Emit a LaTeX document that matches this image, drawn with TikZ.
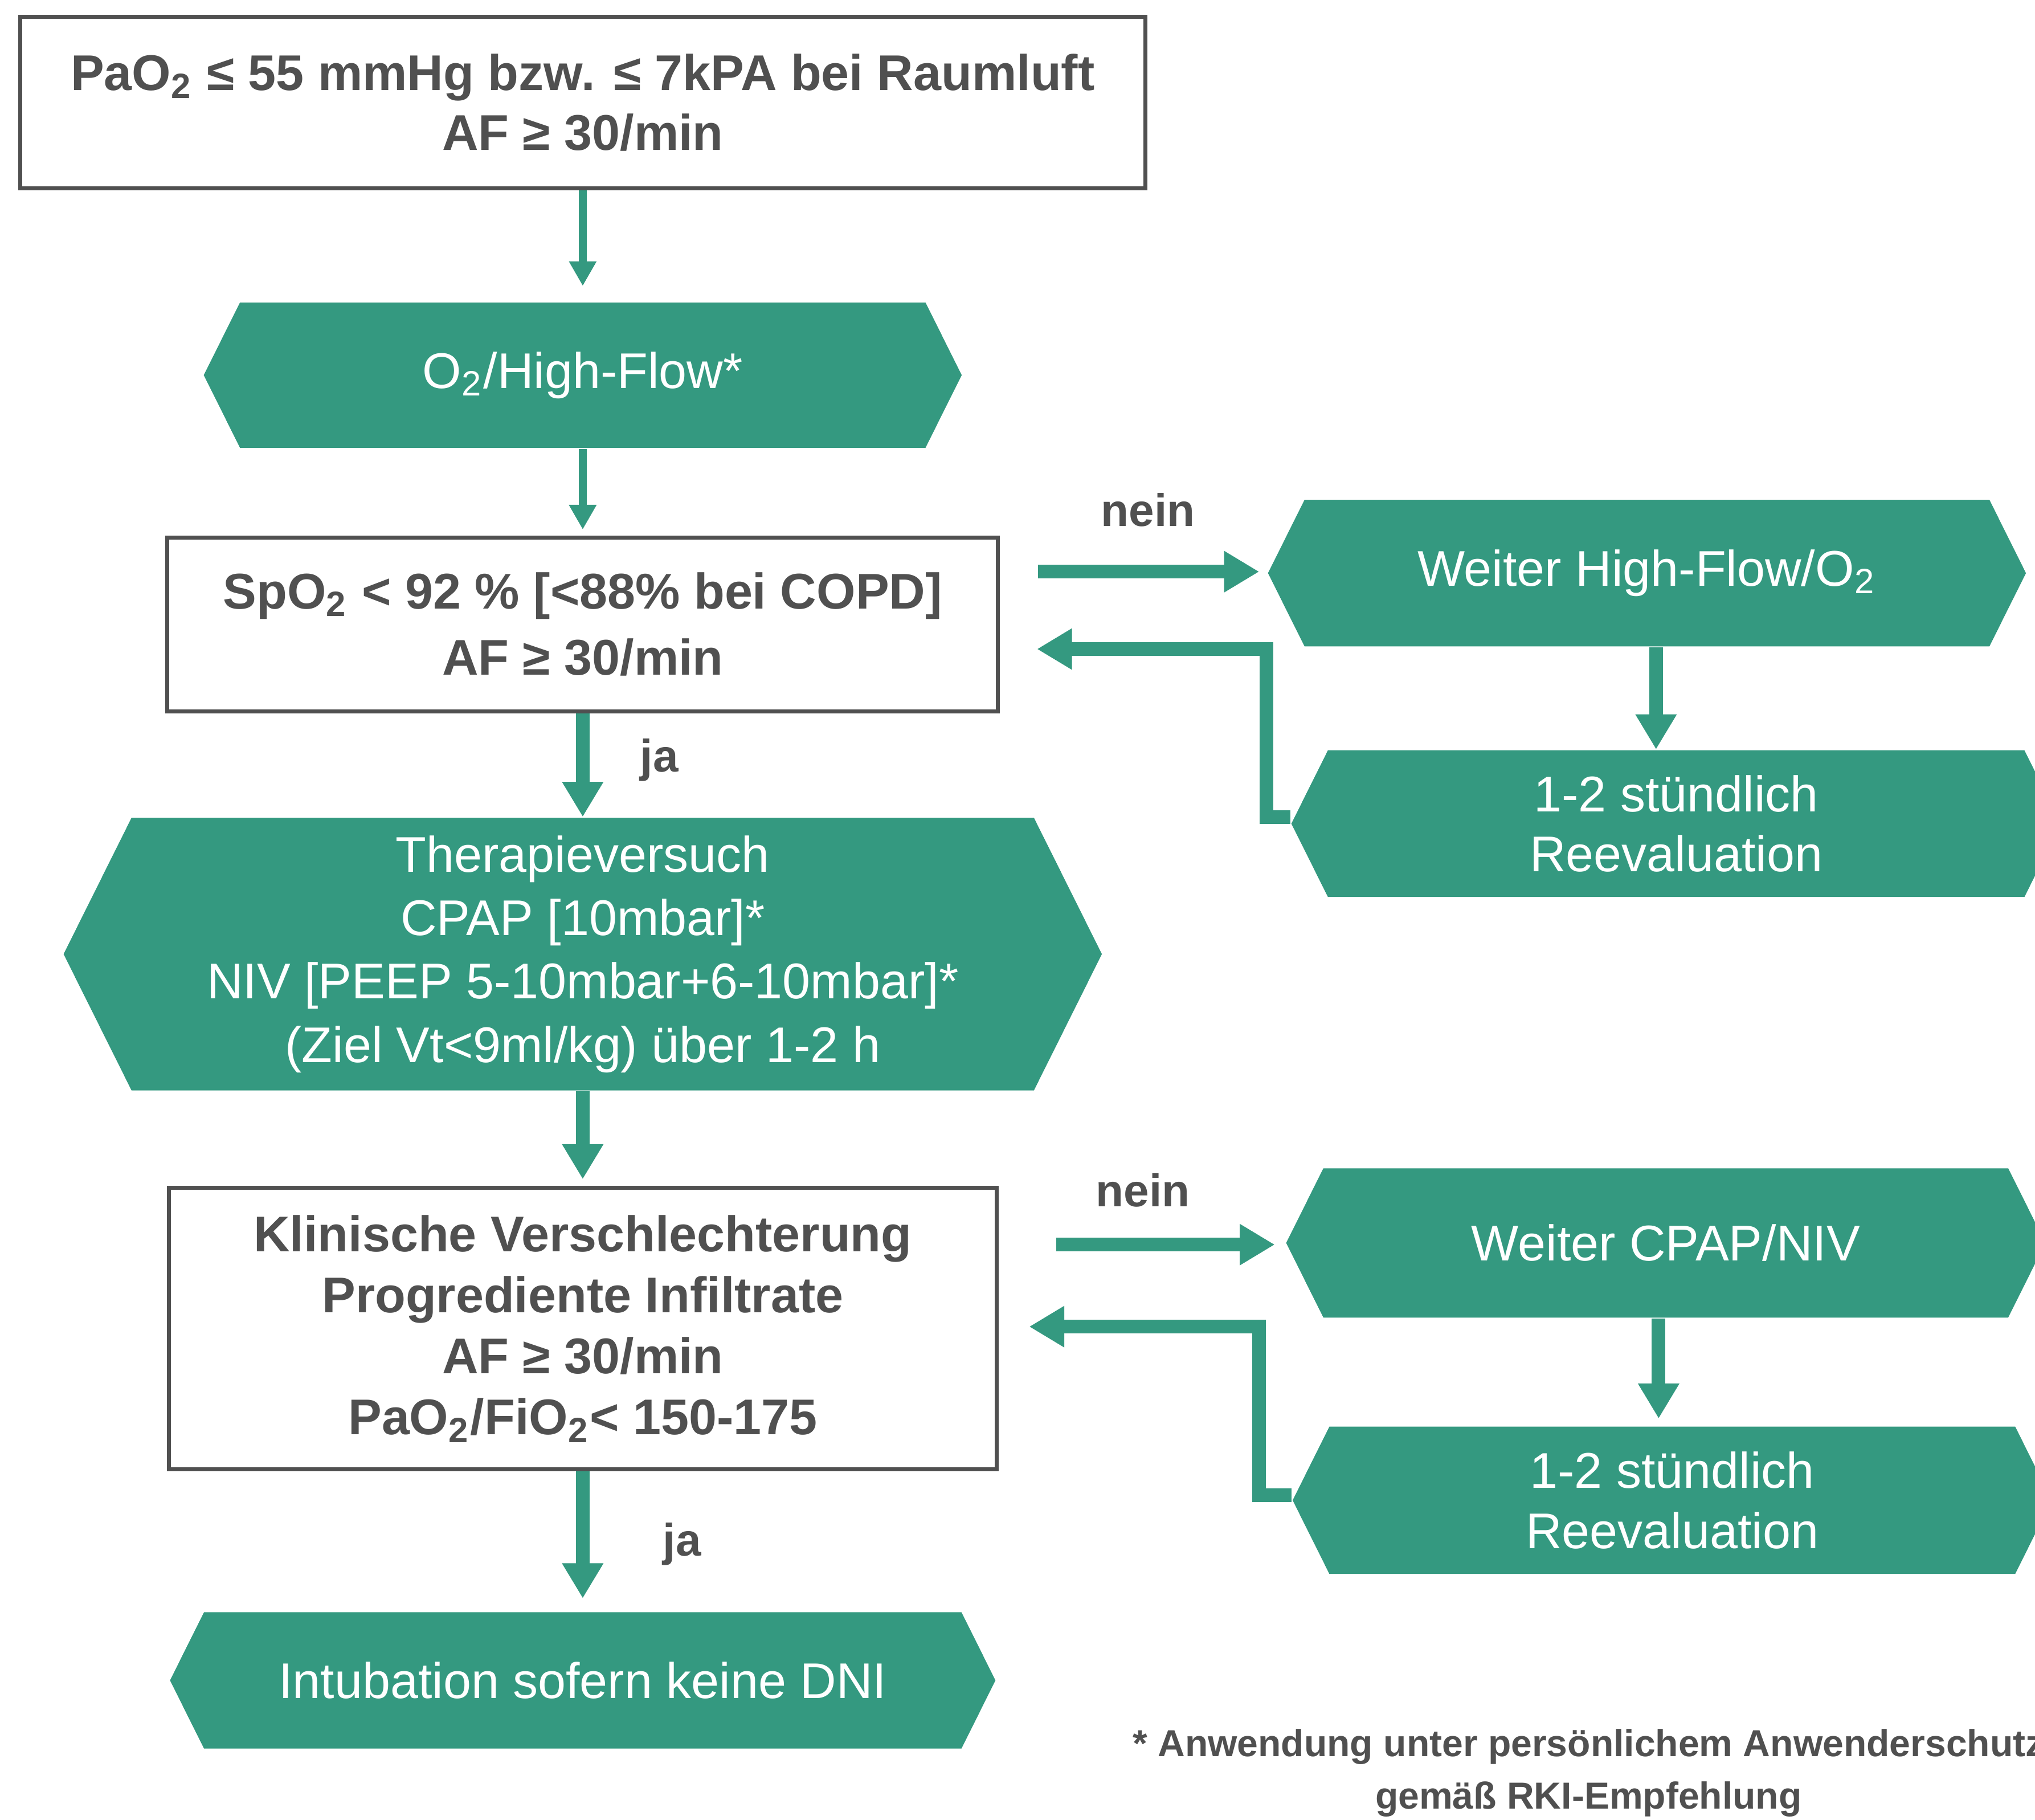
\documentclass[tikz,border=0pt]{standalone}
\usepackage{fontspec}
\setmainfont{Liberation Sans}
\usetikzlibrary{arrows.meta,shapes.symbols,positioning}

\definecolor{flowgreen}{RGB}{52,153,128}
\definecolor{flowgrey}{RGB}{80,80,80}

\tikzset{
  critbox/.style={draw=flowgrey, line width=0.9pt, text=flowgrey, align=center, inner sep=0pt},
  hexstep/.style={signal, signal to=west and east, signal pointer angle=127,
    fill=flowgreen, text=white, align=center, inner sep=0pt},
  thinarrow/.style={flowgreen, line width=1.7pt, -{Triangle[width=0.2cm,length=0.19cm]}},
  thickarrow/.style={flowgreen, line width=3pt, -{Triangle[width=0.3cm,length=0.27cm]}},
  answer/.style={text=flowgrey, font=\bfseries\fontsize{10}{12}\selectfont, anchor=base},
}

\begin{document}
\begin{tikzpicture}
    \useasboundingbox (0,0) rectangle (15.68,14.02);
    \clip (0,0) rectangle (15.68,14.02);

    % main column
    \node[critbox, minimum width=8.67cm, minimum height=1.32cm,
      font=\bfseries\fontsize{11}{13}\selectfont] (crit1) at (4.49,13.23)
      {PaO\textsubscript{2} ≤ 55 mmHg bzw. ≤ 7kPA bei Raumluft\\AF ≥ 30/min};
    \node[hexstep, minimum width=5.84cm, minimum height=1.12cm,
      font=\fontsize{11}{13}\selectfont] (hexO2) at (4.49,11.13) {O\textsubscript{2}/High-Flow*};
    \node[critbox, minimum width=6.40cm, minimum height=1.34cm,
      font=\bfseries\fontsize{11}{14.5}\selectfont] (crit2) at (4.49,9.21)
      {SpO\textsubscript{2} < 92 \% [<88\% bei COPD]\\AF ≥ 30/min};
    \node[hexstep, minimum width=8.0cm, minimum height=2.10cm,
      font=\fontsize{11}{13.9}\selectfont] (hexTher) at (4.49,6.67)
      {Therapieversuch\\CPAP [10mbar]*\\NIV [PEEP 5-10mbar+6-10mbar]*\\(Ziel Vt<9ml/kg) über 1-2 h};
    \node[critbox, minimum width=6.38cm, minimum height=2.17cm,
      font=\bfseries\fontsize{11}{13.4}\selectfont] (crit3) at (4.49,3.785)
      {Klinische Verschlechterung\\Progrediente Infiltrate\\AF ≥ 30/min\\PaO\textsubscript{2}/FiO\textsubscript{2}< 150-175};
    \node[hexstep, minimum width=6.36cm, minimum height=1.05cm,
      font=\fontsize{11}{13}\selectfont] (hexInt) at (4.49,1.075) {Intubation sofern keine DNI};

    % right column
    \node[hexstep, minimum width=5.84cm, minimum height=1.13cm,
      font=\fontsize{11}{13}\selectfont] (hexHF) at (12.69,9.605) {Weiter High-Flow/O\textsubscript{2}};
    \node[hexstep, minimum width=5.93cm, minimum height=1.13cm,
      font=\fontsize{11}{13.2}\selectfont] (hexRe1) at (12.915,7.675) {1-2 stündlich\\Reevaluation};
    \node[hexstep, minimum width=5.85cm, minimum height=1.15cm,
      font=\fontsize{11}{13}\selectfont] (hexCN) at (12.835,4.445) {Weiter CPAP/NIV};
    \node[hexstep, minimum width=5.85cm, minimum height=1.135cm,
      font=\fontsize{11}{13.2}\selectfont] (hexRe2) at (12.885,2.4625) {1-2 stündlich\\Reevaluation};

    % labels
    \node[answer] (nein1) at (8.845,9.964) {nein};
    \node[answer] (nein2) at (8.806,4.725) {nein};
    \node[answer] (ja1) at (5.08,8.075) {ja};
    \node[answer] (ja2) at (5.256,2.035) {ja};
    \node[text=flowgrey, align=center, font=\bfseries\fontsize{8.25}{11.5}\selectfont]
      (note) at (12.24,0.36) {* Anwendung unter persönlichem Anwenderschutz\\gemäß RKI-Empfehlung};

    % loose ends
    \coordinate (nein1start) at (8.00,9.616);
    \coordinate (nein2start) at (8.14,4.432);
    \coordinate (back1) at (9.76,9.02);
    \coordinate (back1end) at (7.99,9.02);
    \coordinate (back2) at (9.70,3.80);
    \coordinate (back2end) at (7.93,3.80);

    % arrows
    \draw[thinarrow, shorten >=0.12cm] (crit1.south) -- (hexO2.north);
    \draw[thinarrow, shorten >=0.045cm] (hexO2.south) -- (crit2.north);
    \draw[thickarrow] (crit2.south) -- (hexTher.north);
    \draw[thickarrow, shorten >=0.05cm] (hexTher.south) -- (crit3.north);
    \draw[thickarrow, shorten >=0.1cm] (crit3.south) -- (hexInt.north);

    \draw[thickarrow, shorten >=0.06cm] (nein1start) -- (nein1start -| hexHF.west);
    \draw[thickarrow] ([xshift=0.07cm]hexHF.south) -- ([xshift=0.07cm]hexHF.south |- hexRe1.north);
    \draw[thickarrow] ([yshift=0.05cm]hexRe1.west) -| (back1) -- (back1end);

    \draw[thickarrow, shorten >=0.08cm] (nein2start) -- (nein2start -| hexCN.west);
    \draw[thickarrow, shorten >=0.055cm] ([xshift=-0.055cm]hexCN.south) -- ([xshift=-0.055cm]hexCN.south |- hexRe2.north);
    \draw[thickarrow] ([yshift=0.04cm]hexRe2.west) -| (back2) -- (back2end);
\end{tikzpicture}
\end{document}
